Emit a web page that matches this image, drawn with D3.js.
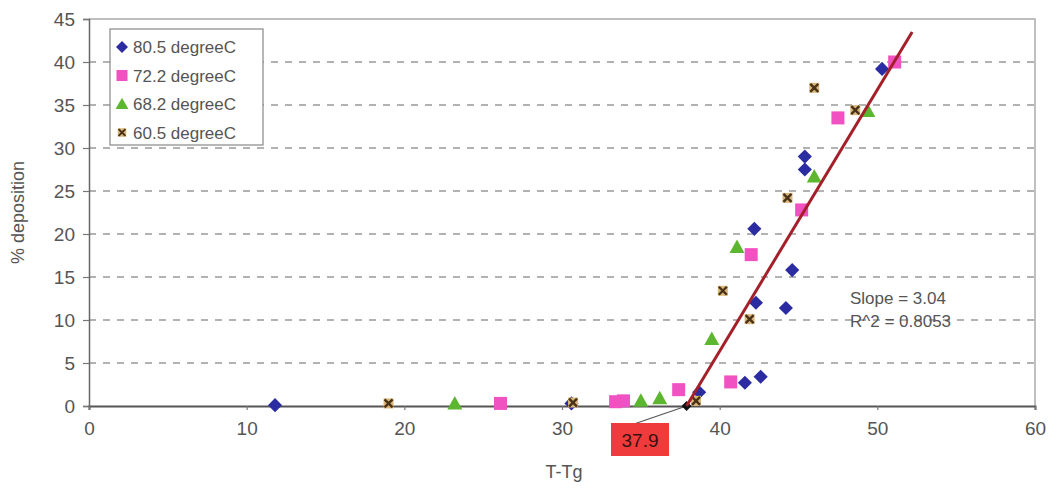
<!DOCTYPE html>
<html>
<head>
<meta charset="utf-8">
<script src="https://cdn.jsdelivr.net/npm/d3@7/dist/d3.min.js"></script>
<style>
  html, body { margin: 0; padding: 0; background: #fff; }
  svg { display: block; font-family: Arial, "Liberation Sans", sans-serif; }
</style>
</head>
<body>
<svg id="chart" width="1050" height="489"></svg>
<script>
// Deposition (%) versus T - Tg for four temperatures
const series80 = [
  [11.8, 0.1], [30.6, 0.3], [38.7, 1.6], [41.6, 2.7], [42.6, 3.4],
  [42.3, 12.0], [42.2, 20.6], [44.2, 11.4], [44.6, 15.8],
  [45.4, 27.5], [45.4, 29.0], [50.3, 39.2]
];
const series72 = [
  [26.1, 0.3], [33.4, 0.5], [33.9, 0.6], [37.4, 1.9], [40.7, 2.8],
  [42.0, 17.6], [45.2, 22.8], [47.5, 33.5], [51.1, 40.0]
];
const series68 = [
  [23.2, 0.3], [35.0, 0.6], [36.2, 0.9], [39.5, 7.8], [41.1, 18.5],
  [46.0, 26.7], [49.4, 34.3]
];
const series60 = [
  [19.0, 0.3], [30.7, 0.4], [38.5, 0.6], [40.2, 13.4], [41.9, 10.1],
  [44.3, 24.2], [46.0, 37.0], [48.6, 34.4]
];
const seriesNames = ["80.5 degreeC", "72.2 degreeC", "68.2 degreeC", "60.5 degreeC"];

const xTicks = [0, 10, 20, 30, 40, 50, 60];
const yTicks = [0, 5, 10, 15, 20, 25, 30, 35, 40, 45];

// Linear fit through the upper points: onset at 37.9, slope 3.04
const onset = 37.9;
const slope = 3.04;
const fitTopY = 43.5;
const fitText = ["Slope = 3.04", "R^2 = 0.8053"];

const svg = d3.select("#chart");
const plot = { left: 89, right: 1035, top: 19, bottom: 406 };

const x = d3.scaleLinear().domain([0, 60]).range([plot.left, plot.right]);
const y = d3.scaleLinear().domain([0, 45]).range([plot.bottom, plot.top]);

// Plot frame (top and right edges)
svg.append("path")
  .attr("d", `M${plot.left},${plot.top}H${plot.right}V${plot.bottom}`)
  .attr("fill", "none").attr("stroke", "#aaa").attr("stroke-width", 1.5);

// Dashed horizontal gridlines
svg.append("g").selectAll("line")
  .data(yTicks.filter(d => d > 0 && d < 45))
  .join("line")
  .attr("x1", plot.left).attr("x2", plot.right)
  .attr("y1", d => y(d)).attr("y2", d => y(d))
  .attr("stroke", "#999").attr("stroke-width", 1.3)
  .attr("stroke-dasharray", "7,7");

// Axes
const yAxis = svg.append("g")
  .attr("transform", `translate(${plot.left},0)`)
  .call(d3.axisLeft(y).tickValues(yTicks).tickSize(6).tickPadding(8));
const xAxis = svg.append("g")
  .attr("transform", `translate(0,${y(0)})`)
  .call(d3.axisBottom(x).tickValues(xTicks).tickSize(4).tickPadding(12));

[yAxis, xAxis].forEach(g => {
  g.select(".domain").attr("stroke", "#666").attr("stroke-width", 1.5);
  g.selectAll(".tick line").attr("stroke", "#777").attr("stroke-width", 1.2);
  g.selectAll(".tick text").attr("fill", "#555").attr("font-size", 19)
    .attr("font-family", "Arial, 'Liberation Sans', sans-serif");
});
xAxis.select(".domain").attr("stroke", "#555").attr("stroke-width", 2);

// Axis titles
svg.append("text")
  .attr("transform", `translate(24,${(plot.top + plot.bottom) / 2}) rotate(-90)`)
  .attr("text-anchor", "middle").attr("font-size", 18).attr("fill", "#555")
  .text("% deposition");
svg.append("text")
  .attr("x", 564).attr("y", 478)
  .attr("text-anchor", "middle").attr("font-size", 18).attr("fill", "#555")
  .text("T-Tg");

// Marker shapes
const markers = [
  { data: series80, draw: g => g.append("rect").attr("x", -5).attr("y", -5).attr("width", 10).attr("height", 10)
      .attr("transform", "rotate(45)").attr("fill", "#2c2ca2") },
  { data: series72, draw: g => g.append("rect").attr("x", -6.5).attr("y", -6.5).attr("width", 13).attr("height", 13).attr("fill", "#f052c2") },
  { data: series68, draw: g => g.append("path").attr("d", "M0,-7.5L7.5,6L-7.5,6Z").attr("fill", "#5db62f") },
  { data: series60, draw: g => {
      g.append("rect").attr("x", -5).attr("y", -5).attr("width", 10).attr("height", 10).attr("fill", "#d9b77a");
      g.append("path").attr("d", "M-4,-4L4,4M4,-4L-4,4").attr("stroke", "#4a3218").attr("stroke-width", 2.4);
    } }
];

// Leader from the onset label to the intercept
svg.append("line")
  .attr("x1", 634).attr("y1", 424)
  .attr("x2", x(onset)).attr("y2", y(0))
  .attr("stroke", "#555").attr("stroke-width", 1.2);

// Data points
markers.forEach(m => {
  svg.append("g").selectAll("g")
    .data(m.data)
    .join("g")
    .attr("transform", d => `translate(${x(d[0])},${y(d[1])})`)
    .each(function () { m.draw(d3.select(this)); });
});

// Intercept marker
svg.append("rect")
  .attr("transform", `translate(${x(onset)},${y(0)}) rotate(45)`)
  .attr("x", -3.5).attr("y", -3.5).attr("width", 7).attr("height", 7)
  .attr("fill", "#111");

// Trend line
svg.append("line")
  .attr("x1", x(onset)).attr("y1", y(0))
  .attr("x2", x(onset + fitTopY / slope)).attr("y2", y(fitTopY))
  .attr("stroke", "#a3202a").attr("stroke-width", 3);

// Fit statistics
svg.append("g").selectAll("text")
  .data(fitText)
  .join("text")
  .attr("x", 850).attr("y", (d, i) => 304 + i * 23)
  .attr("font-size", 17).attr("fill", "#555")
  .text(d => d);

// Onset label
const onsetLabel = svg.append("g").attr("transform", "translate(611,423)");
onsetLabel.append("rect").attr("width", 58).attr("height", 33).attr("fill", "#ef3b3b");
onsetLabel.append("text").attr("x", 29).attr("y", 24)
  .attr("text-anchor", "middle").attr("font-size", 19).attr("fill", "#3a1010")
  .text(onset.toFixed(1));

// Legend
const legend = svg.append("g").attr("transform", "translate(110,29)");
legend.append("rect").attr("width", 153).attr("height", 116)
  .attr("fill", "#fff").attr("stroke", "#888").attr("stroke-width", 1.2);
seriesNames.forEach((name, i) => {
  const row = legend.append("g").attr("transform", `translate(12,${18 + i * 28.5})`);
  const mk = row.append("g").attr("transform", "scale(0.85)");
  markers[i].draw(mk);
  row.append("text").attr("x", 11).attr("y", 6)
    .attr("font-size", 17).attr("fill", "#555").text(name);
});
</script>
</body>
</html>
